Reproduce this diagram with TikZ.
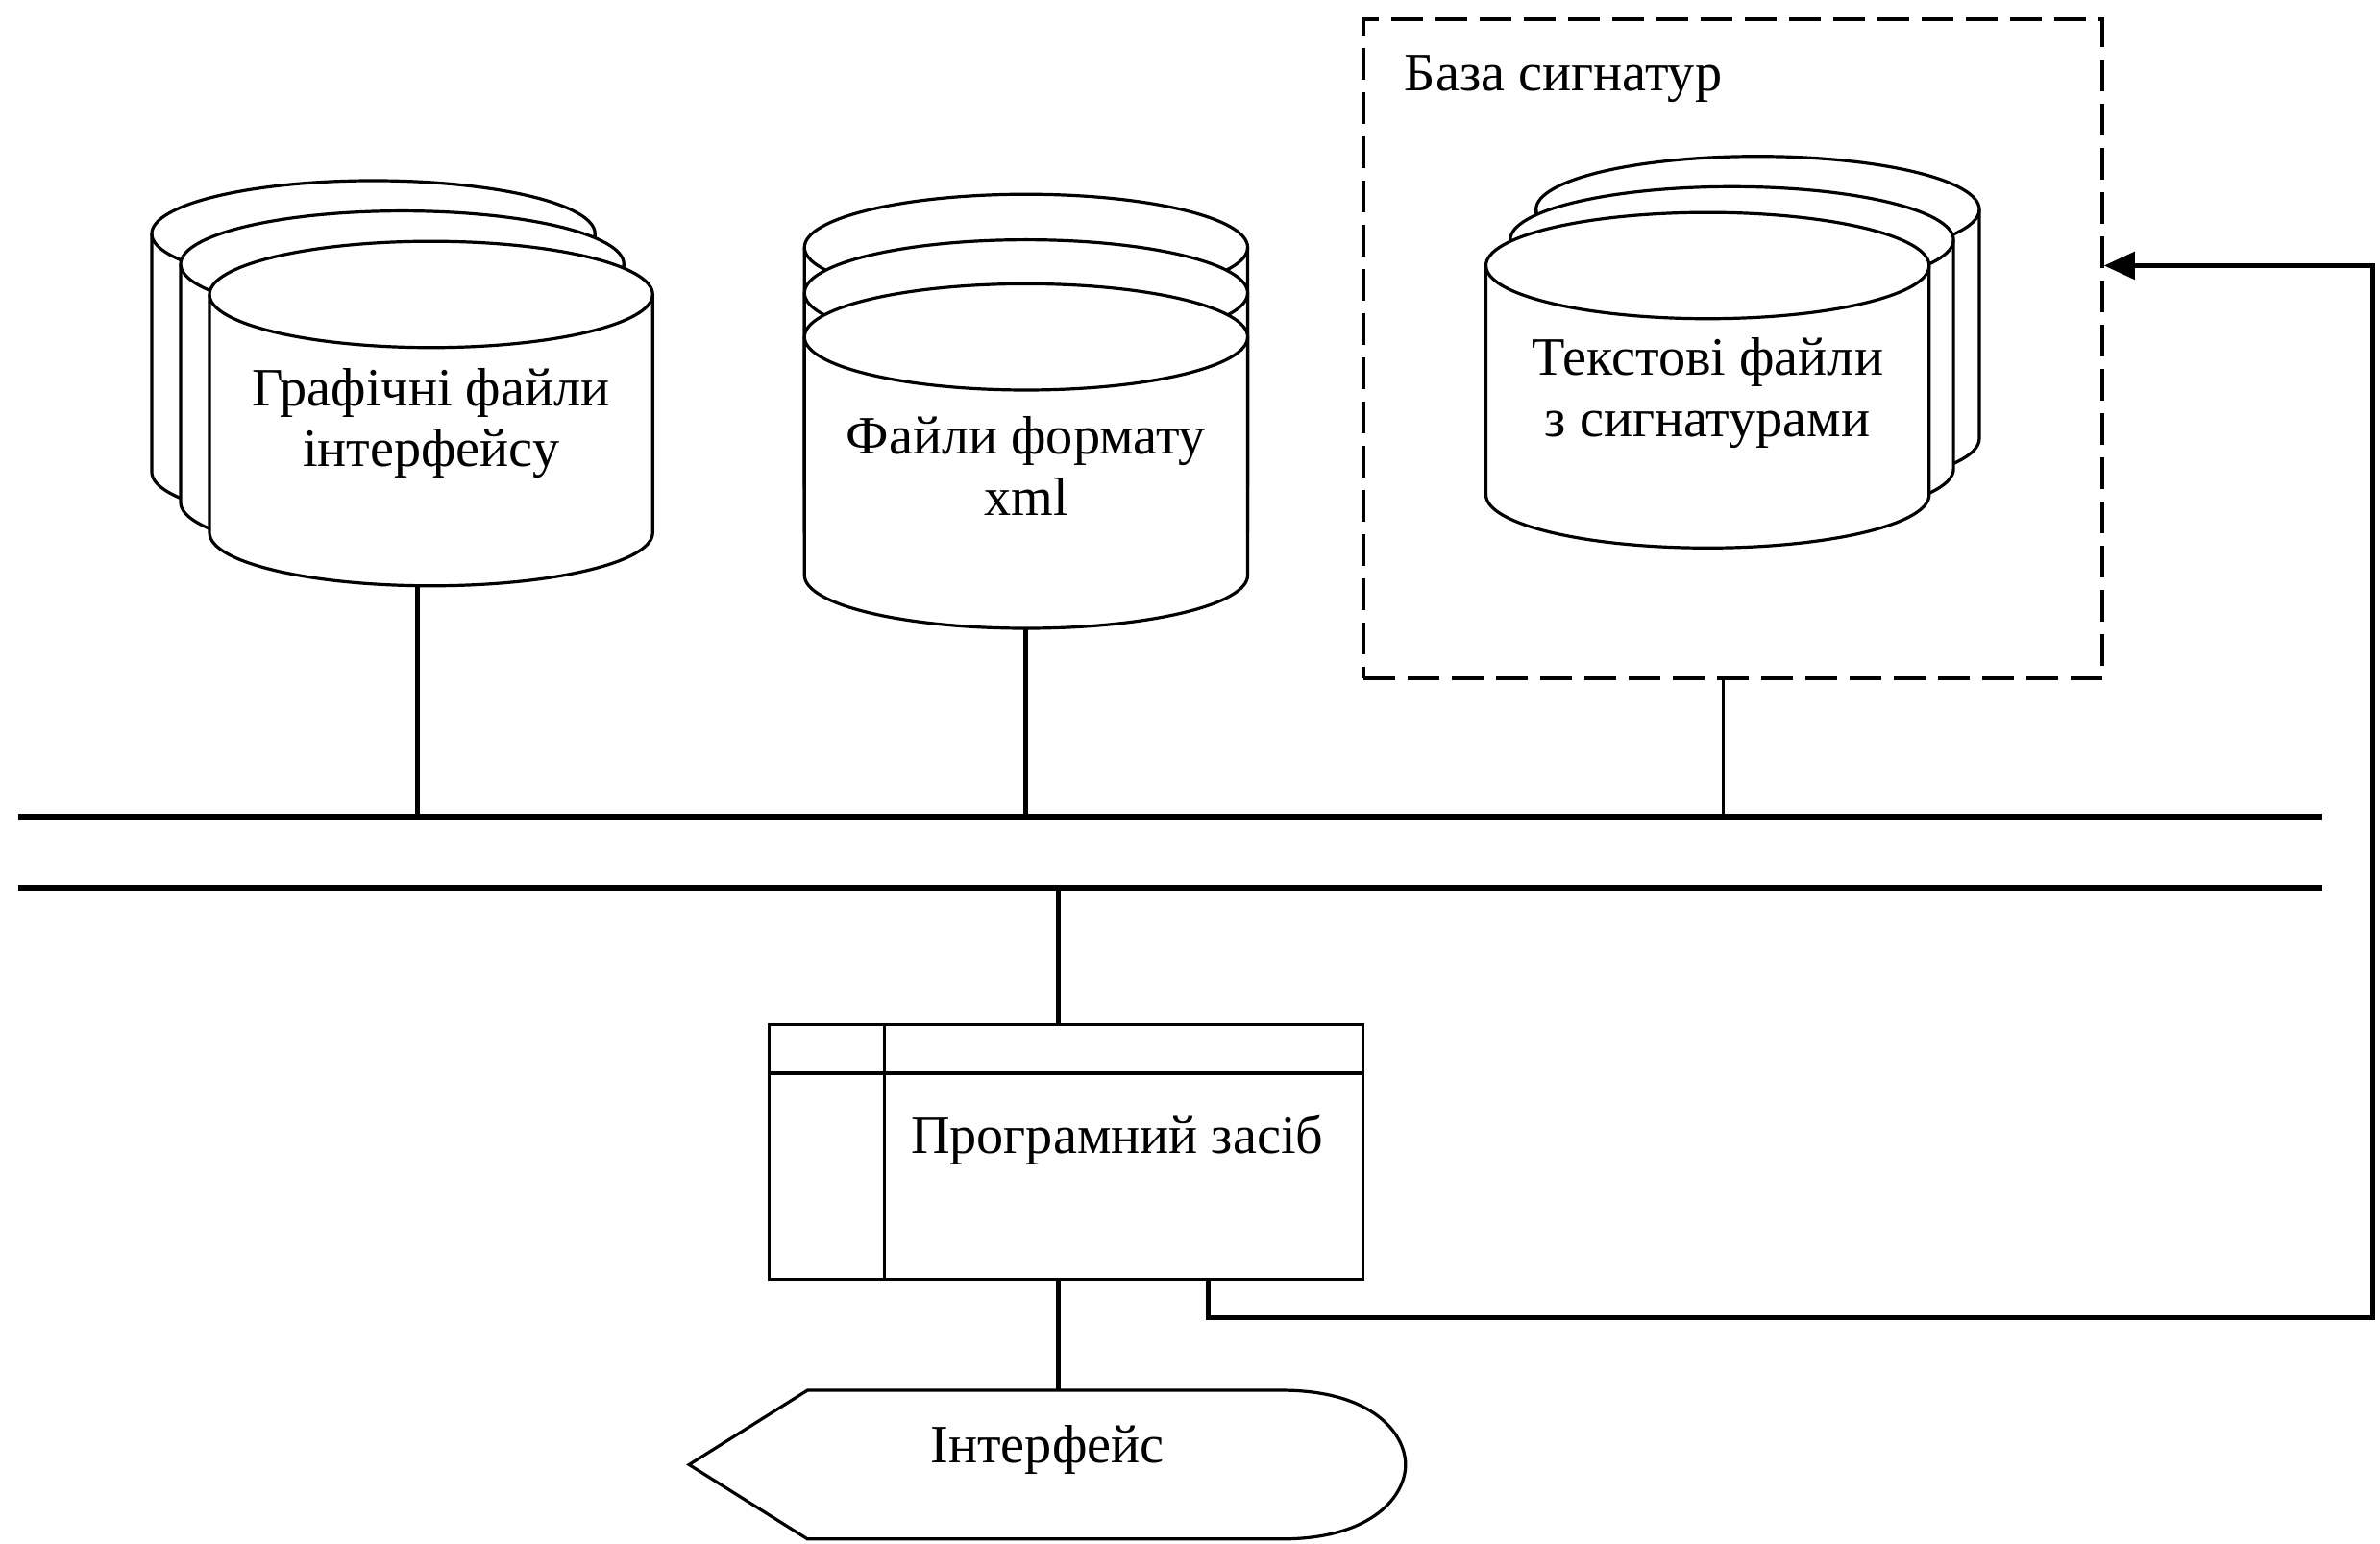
\documentclass[tikz,border=0pt]{standalone}
\usepackage{fontspec}
\setmainfont{Liberation Serif}
\usetikzlibrary{positioning,calc,arrows.meta}

\begin{document}
\begin{tikzpicture}[x=0.15797mm,y=-0.15797mm]
		\tikzset{
			outline/.style={line width=0.32mm},
			link/.style={line width=0.5mm},
			bus line/.style={line width=0.6mm},
			sig box/.style={draw, line width=0.4mm, dash pattern=on 3.3mm off 1.3mm,
					minimum width=76.9mm, minimum height=68.6mm},
			prog box/.style={draw, outline, fill=white,
					minimum width=61.8mm, minimum height=26.5mm},
			caption/.style={font=\fontsize{16}{18}\selectfont, align=center, inner sep=0pt},
			pics/drum/.style={
					code={
							\draw[outline, fill=white] (-146,0) -- (-146,#1)
							arc[start angle=180, end angle=0, x radius=146, y radius=35]
							-- (146,0)
							arc[start angle=0, end angle=-180, x radius=146, y radius=35] -- cycle;
							\draw[outline] (-146,0) arc[start angle=180, end angle=0, x radius=146, y radius=35];
							\coordinate (-top) at (0,0);
							\coordinate (-bot) at (0,#1+35);
						}
				},
			pics/drum/.default=157,
		}
		\path[use as bounding box] (0,0) rectangle (1568,1017);
		%
		\node[sig box] (sigBase) at (1141.5,230) {};
		\node[caption, anchor=base west] (sigTitle) at (925,60) {База сигнатур};
		%
		\pic (grafC) at (246,154) {drum};
		\pic (grafB) at (265,174) {drum};
		\pic (grafA) at (284,194) {drum};
		\node[caption] (grafTxt) at ($(grafA-top)+(0,85)$) {Графічні файли\\інтерфейсу};
		%
		\pic (xmlC) at (676,163) {drum};
		\pic (xmlB) at (676,193) {drum};
		\pic (xmlA) at (676,222) {drum};
		\node[caption] (xmlTxt) at ($(xmlA-top)+(0,85)$) {Файли формату\\xml};
		%
		\pic (sigC) at (1158,138) {drum=151};
		\pic (sigB) at (1141,158) {drum=151};
		\pic (sigA) at (1125,175) {drum=151};
		\node[caption] (sigTxt) at ($(sigA-top)+(0,84)$) {Текстові файли\\з сигнатурами};
		%
		\coordinate (busW) at (12,538);
		\coordinate (busE) at (1530,538);
		\coordinate (bus2W) at (12,585);
		\coordinate (bus2E) at (1530,585);
		\draw[bus line] (busW) -- (busE);
		\draw[bus line] (bus2W) -- (bus2E);
		%
		\draw[link] ($(grafA-bot)+(-9,0)$) coordinate (g1) -- (g1 |- busW);
		\draw[link] (xmlA-bot) -- (xmlA-bot |- busW);
		\draw[line width=0.28mm] ($(sigBase.south)+(-6,0)$) coordinate (s1) -- (s1 |- busW);
		%
		\node[prog box] (prog) at (702.5,759) {};
		\draw[outline] ($(prog.north west)+(0,33)$) -- ($(prog.north east)+(0,33)$);
		\draw[outline] ($(prog.north west)+(77,0)$) -- ($(prog.south west)+(77,0)$);
		\node[caption, anchor=base] (progTxt) at (736,760) {Програмний засіб};
		\draw[link] ($(prog.north)+(-5,0)$) coordinate (p1) -- (p1 |- bus2W);
		%
		\coordinate (ifTip) at (454,965);
		\draw[outline, fill=white] (ifTip) -- (532,916) coordinate (ifNW) -- (844,916)
		.. controls (905,916) and (926,945) .. (926,965)
		.. controls (926,985) and (905,1014) .. (844,1014) -- (532,1014) -- cycle;
		\node[caption, anchor=base] (ifTxt) at (690,964) {Інтерфейс};
		\draw[link] ($(prog.south)+(-5,0)$) coordinate (p2) -- (p2 |- ifNW);
		%
		\coordinate (fbTurn) at (1563,868);
		\coordinate (fbUp) at (1563,175);
		\draw[link, -{Triangle[length=3.2mm, width=2.8mm]}] ($(prog.south east)+(-103,0)$)
		|- (fbTurn) -- (fbUp) -- (sigBase.east |- fbUp);
	\end{tikzpicture}
\end{document}
